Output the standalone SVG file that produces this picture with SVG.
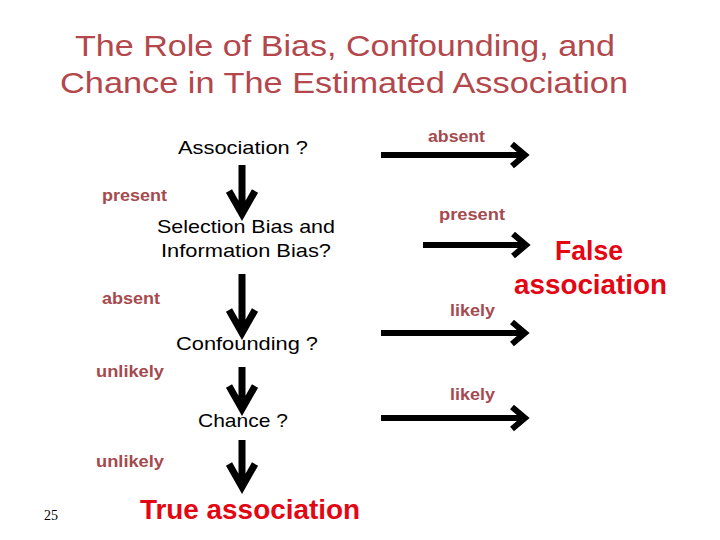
<svg xmlns="http://www.w3.org/2000/svg" width="720" height="540" viewBox="0 0 720 540">
<style>
text{font-family:"Liberation Sans",Arial,sans-serif}
.title{font-size:30px;fill:#b3474c}
.node{font-size:19px;fill:#000}
.lbl{font-size:16px;font-weight:bold;fill:#a54a4e}
.res{font-weight:bold;fill:#e30613}
.arr{stroke:#000;stroke-width:6;fill:none;stroke-linecap:butt;stroke-linejoin:miter}
.varr{stroke:#000;stroke-width:7;fill:none;stroke-linecap:butt;stroke-linejoin:miter}
</style>
<rect width="720" height="540" fill="#fff"/>
<g id="title">
<text class="title" x="75" y="56" textLength="540" lengthAdjust="spacingAndGlyphs">The Role of Bias, Confounding, and</text>
<text class="title" x="60" y="93" textLength="568" lengthAdjust="spacingAndGlyphs">Chance in The Estimated Association</text>
</g>
<g id="connectors">
<path class="varr" d="M242 165V214M229 191L242 214L255 191"/>
<path class="varr" d="M242 274V333M229 310L242 333L255 310"/>
<path class="varr" d="M242 367V409M229 386L242 409L255 386"/>
<path class="varr" d="M242 440V487M229 464L242 487L255 464"/>
<path class="arr" d="M381 155H525M512 144L525 155L512 166"/>
<path class="arr" d="M423 245H526M513 234L526 245L513 256"/>
<path class="arr" d="M381 333H525M512 322L525 333L512 344"/>
<path class="arr" d="M381 418H525M512 407L525 418L512 429"/>
</g>
<g id="n-association"><text class="node" x="178" y="154" textLength="130" lengthAdjust="spacingAndGlyphs">Association ?</text></g>
<g id="n-bias"><text class="node" x="157" y="233" textLength="178" lengthAdjust="spacingAndGlyphs">Selection Bias and</text><text class="node" x="161" y="257" textLength="170" lengthAdjust="spacingAndGlyphs">Information Bias?</text></g>
<g id="n-confounding"><text class="node" x="176" y="350" textLength="142" lengthAdjust="spacingAndGlyphs">Confounding ?</text></g>
<g id="n-chance"><text class="node" x="198" y="427" textLength="90" lengthAdjust="spacingAndGlyphs">Chance ?</text></g>
<g id="n-true"><text class="res" x="140" y="519" font-size="28" textLength="220" lengthAdjust="spacingAndGlyphs">True association</text></g>
<g id="n-false"><text class="res" x="555" y="260" font-size="27" textLength="68" lengthAdjust="spacingAndGlyphs">False</text><text class="res" x="514" y="294" font-size="27" textLength="153" lengthAdjust="spacingAndGlyphs">association</text></g>
<g id="labels">
<text class="lbl" x="428" y="142" textLength="57" lengthAdjust="spacingAndGlyphs">absent</text>
<text class="lbl" x="102" y="201" textLength="65" lengthAdjust="spacingAndGlyphs">present</text>
<text class="lbl" x="439" y="220" textLength="66" lengthAdjust="spacingAndGlyphs">present</text>
<text class="lbl" x="102" y="304" textLength="58" lengthAdjust="spacingAndGlyphs">absent</text>
<text class="lbl" x="450" y="316" textLength="45" lengthAdjust="spacingAndGlyphs">likely</text>
<text class="lbl" x="96" y="377" textLength="68" lengthAdjust="spacingAndGlyphs">unlikely</text>
<text class="lbl" x="450" y="400" textLength="45" lengthAdjust="spacingAndGlyphs">likely</text>
<text class="lbl" x="96" y="467" textLength="68" lengthAdjust="spacingAndGlyphs">unlikely</text>
</g>
<text x="44" y="520" font-size="14" fill="#000" style="font-family:'Liberation Serif',serif">25</text>
</svg>
